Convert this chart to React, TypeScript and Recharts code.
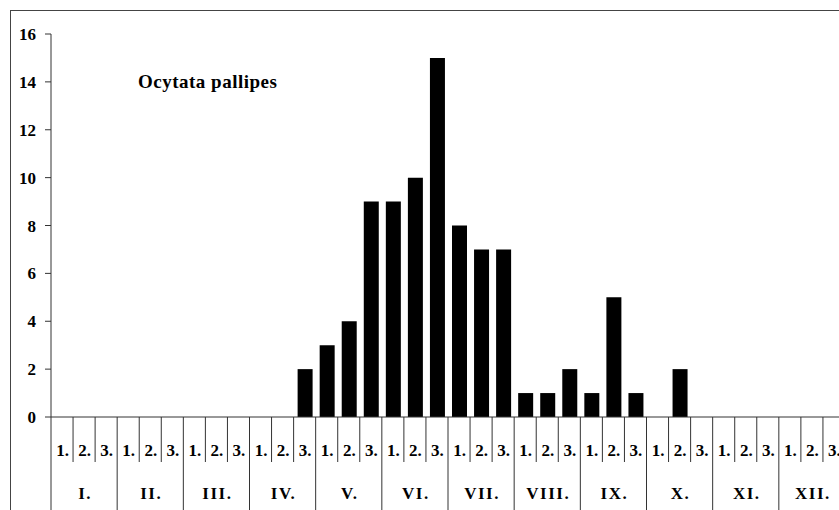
import React from 'react';
import { BarChart, Bar, XAxis, YAxis, Customized } from 'recharts';

const months = ['I.', 'II.', 'III.', 'IV.', 'V.', 'VI.', 'VII.', 'VIII.', 'IX.', 'X.', 'XI.', 'XII.'];
const thirds = ['1.', '2.', '3.'];
const counts = [
  0, 0, 0,
  0, 0, 0,
  0, 0, 0,
  0, 0, 2,
  3, 4, 9,
  9, 10, 15,
  8, 7, 7,
  1, 1, 2,
  1, 5, 1,
  0, 2, 0,
  0, 0, 0,
  0, 0, 0,
];
const yTicks = [0, 2, 4, 6, 8, 10, 12, 14, 16];
const title = 'Ocytata pallipes';

const data = counts.map((v, i) => ({
  slot: thirds[i % 3],
  month: months[Math.floor(i / 3)],
  value: v,
}));

const FONT = '"Liberation Serif", "Times New Roman", serif';
const LINE = '#333';

const SlotTick = (props: any) => {
  const { x, y, payload, index } = props;
  const half = payload && payload.offset ? payload.offset : 11.03;
  const i = typeof index === 'number' ? index : payload.index;
  const left = x - half;
  const isMonthStart = i % 3 === 0;
  const isLast = i === data.length - 1;
  return (
    <g>
      <line x1={left} y1={y} x2={left} y2={isMonthStart ? y + 95 : y + 45} stroke={LINE} strokeWidth={1} />
      {isLast && <line x1={x + half} y1={y} x2={x + half} y2={y + 95} stroke={LINE} strokeWidth={1} />}
      <text x={x + 0.5} y={y + 39} textAnchor="middle" fontFamily={FONT} fontWeight="bold" fontSize={17} fill="#000">
        {payload.value}
      </text>
      {i % 3 === 1 && (
        <text x={x + 1} y={y + 82} textAnchor="middle" fontFamily={FONT} fontWeight="bold" fontSize={17} letterSpacing={1.5} fill="#000">
          {data[i].month}
        </text>
      )}
    </g>
  );
};

const Title = () => (
  <text x={138} y={88} fontFamily={FONT} fontWeight="bold" fontSize={19} letterSpacing={0.5} fill="#000">
    {title}
  </text>
);

export default function App() {
  return (
    <div style={{ position: 'absolute', left: 0, top: 0, width: 839, height: 510, overflow: 'hidden', background: '#fff' }}>
      <div style={{ position: 'absolute', left: 10, top: 10, width: 900, height: 600, border: '1px solid #444', boxSizing: 'border-box' }} />
      <div style={{ position: 'absolute', left: 0, top: 0 }}>
        <BarChart width={860} height={510} data={data} margin={{ top: 34, right: 15, left: 0, bottom: 0 }} barCategoryGap={0}>
          <XAxis
            dataKey="slot"
            interval={0}
            tickSize={0}
            tickMargin={0}
            tickLine={false}
            axisLine={{ stroke: LINE }}
            height={93}
            tick={<SlotTick />}
          />
          <YAxis
            width={51}
            domain={[0, 16]}
            ticks={yTicks}
            interval={0}
            tickSize={6}
            tickMargin={9}
            tickLine={{ stroke: LINE }}
            axisLine={{ stroke: LINE }}
            tick={{ fontFamily: FONT, fontWeight: 'bold', fontSize: 17, fill: '#000' }}
          />
          <Bar dataKey="value" fill="#000" barSize={15} isAnimationActive={false} />
          <Customized component={Title} />
        </BarChart>
      </div>
    </div>
  );
}
